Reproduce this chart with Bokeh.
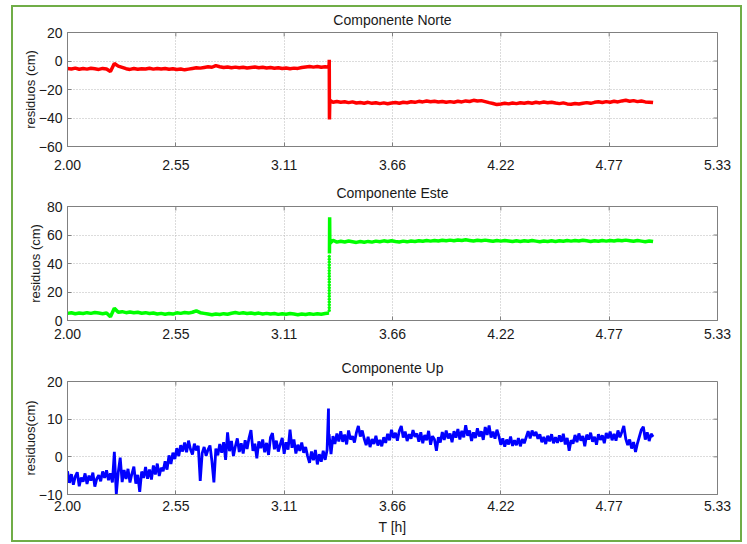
from bokeh.plotting import figure
from bokeh.layouts import column
from bokeh.models import Range1d, FixedTicker
from bokeh.embed import file_html
from bokeh.resources import INLINE

nan = float("nan")

# time [h] for Norte / Este
tiempo = [
    2.00, 2.02, 2.04, 2.06, 2.08, 2.10, 2.12, 2.14, 2.16, 2.18,
    2.20, 2.22, 2.24, 2.26, 2.28, 2.30, 2.32, 2.34, 2.36, 2.38,
    2.40, 2.42, 2.44, 2.46, 2.48, 2.50, 2.52, 2.54, 2.56, 2.58,
    2.60, 2.62, 2.64, 2.66, 2.68, 2.70, 2.72, 2.74, 2.76, 2.78,
    2.80, 2.82, 2.84, 2.86, 2.88, 2.90, 2.92, 2.94, 2.96, 2.98,
    3.00, 3.02, 3.04, 3.06, 3.08, 3.10, 3.12, 3.14, 3.16, 3.18,
    3.20, 3.22, 3.24, 3.26, 3.28, 3.30, 3.32, 3.34, 3.341, 3.342, 3.343, 3.344, 3.36, 3.38,
    3.40, 3.42, 3.44, 3.46, 3.48, 3.50, 3.52, 3.54, 3.56, 3.58,
    3.60, 3.62, 3.64, 3.66, 3.68, 3.70, 3.72, 3.74, 3.76, 3.78,
    3.80, 3.82, 3.84, 3.86, 3.88, 3.90, 3.92, 3.94, 3.96, 3.98,
    4.00, 4.02, 4.04, 4.06, 4.08, 4.10, 4.12, 4.14, 4.16, 4.18,
    4.20, 4.22, 4.24, 4.26, 4.28, 4.30, 4.32, 4.34, 4.36, 4.38,
    4.40, 4.42, 4.44, 4.46, 4.48, 4.50, 4.52, 4.54, 4.56, 4.58,
    4.60, 4.62, 4.64, 4.66, 4.68, 4.70, 4.72, 4.74, 4.76, 4.78,
    4.80, 4.82, 4.84, 4.86, 4.88, 4.90, 4.92, 4.94, 4.96, 4.98,
    5.00,
]

norte = [
    -5.2, -5.6, -5.0, -5.8, -5.3, -5.7, -5.1, -5.5, -5.9, -5.2,
    -5.6, -7.4, -1.8, -3.6, -4.5, -5.4, -5.9, -5.3, -5.8, -5.4,
    -5.6, -5.1, -5.7, -5.2, -5.6, -5.3, -5.8, -5.4, -6.0, -5.6,
    -6.2, -5.7, -5.2, -4.8, -5.0, -4.5, -4.1, -4.4, -3.2, -4.0,
    -4.6, -4.2, -4.7, -4.3, -4.8, -4.4, -4.9, -4.5, -4.2, -4.7,
    -4.4, -4.9, -4.6, -5.1, -4.7, -5.3, -4.9, -5.4, -5.0, -5.2,
    -4.6, -4.2, -3.8, -4.3, -3.9, -4.4, -4.0, -4.3, 0.8, -41.0, -33.0, -27.5, -29.0, -28.4,
    -28.9, -28.6, -29.2, -28.7, -29.5, -29.1, -29.6, -29.0, -29.7, -29.3,
    -29.9, -29.4, -30.0, -29.5, -29.1, -29.6, -28.9, -29.3, -28.6, -29.0,
    -28.3, -28.7, -28.1, -28.6, -28.2, -28.8, -28.4, -29.0, -28.5, -28.9,
    -28.3, -28.7, -28.0, -28.4, -27.6, -28.1, -27.8, -28.5, -29.2, -29.8,
    -30.6, -30.2, -29.7, -30.1, -29.5, -29.9, -29.3, -29.7, -29.1, -29.6,
    -29.0, -29.4, -28.8, -29.3, -28.9, -29.5, -29.9, -29.4, -30.1, -30.4,
    -29.8, -30.2, -29.6, -29.2, -29.7, -29.0, -28.6, -29.1, -28.5, -28.9,
    -28.3, -28.7, -28.0, -27.6, -28.2, -27.8, -28.5, -28.1, -28.7, -28.9,
    -29.2,
]

este = [
    5.0, 5.4, 4.7, 5.2, 4.9, 5.5, 5.0, 5.6, 5.2, 4.8,
    5.3, 2.6, 8.6, 5.8, 6.2, 5.5, 6.0, 5.4, 5.8, 5.1,
    5.5, 4.9, 5.3, 4.6, 5.0, 4.4, 4.9, 4.5, 5.4, 5.0,
    5.6, 5.2, 5.8, 6.8, 5.5, 5.0, 4.5, 4.0, 4.6, 4.2,
    4.8, 4.4, 5.1, 5.6, 5.0, 5.4, 4.9, 5.3, 4.8, 5.2,
    4.6, 5.0, 4.5, 4.9, 4.3, 4.8, 4.4, 4.9, 4.5, 4.1,
    4.6, 4.2, 4.7, 4.3, 4.8, 4.4, 4.9, 5.2, nan, 47.0, 72.5, 54.0, 56.3, 55.0,
    55.6, 55.1, 55.8, 55.3, 54.8, 55.4, 54.9, 55.5, 55.0, 55.7,
    55.3, 55.9, 55.4, 56.0, 55.5, 55.1, 55.7, 55.2, 55.8, 55.4,
    56.0, 55.6, 56.1, 55.7, 56.2, 55.8, 56.3, 55.9, 56.4, 56.0,
    56.5, 56.1, 56.6, 56.2, 55.8, 56.3, 55.9, 56.4, 56.0, 55.6,
    56.1, 55.7, 56.2, 55.8, 55.4, 55.9, 55.5, 56.0, 55.6, 56.1,
    55.7, 55.3, 55.8, 55.4, 55.9, 55.5, 56.0, 55.6, 56.1, 55.7,
    56.2, 55.8, 56.3, 55.9, 55.5, 56.0, 55.6, 56.1, 55.7, 56.2,
    55.8, 56.3, 55.9, 56.4, 56.0, 55.6, 56.1, 55.7, 55.3, 55.8,
    55.4,
]

# sparse points of the Este jump (drawn as dots)
este_salto_t = 3.341
este_salto_y = [7, 9, 11, 13, 15, 17, 19, 21, 23, 25, 27, 29, 31, 33, 35, 37, 39, 41, 43, 45]

# time [h] for Up (denser sampling)
tiempo_up = [
    2.00, 2.01, 2.02, 2.03, 2.04, 2.05, 2.06, 2.07, 2.08, 2.09,
    2.10, 2.11, 2.12, 2.13, 2.14, 2.15, 2.16, 2.17, 2.18, 2.19,
    2.20, 2.21, 2.22, 2.23, 2.24, 2.25, 2.26, 2.27, 2.28, 2.29,
    2.30, 2.31, 2.32, 2.33, 2.34, 2.35, 2.36, 2.37, 2.38, 2.39,
    2.40, 2.41, 2.42, 2.43, 2.44, 2.45, 2.46, 2.47, 2.48, 2.49,
    2.50, 2.51, 2.52, 2.53, 2.54, 2.55, 2.56, 2.57, 2.58, 2.59,
    2.60, 2.61, 2.62, 2.63, 2.64, 2.65, 2.66, 2.67, 2.68, 2.69,
    2.70, 2.71, 2.72, 2.73, 2.74, 2.75, 2.76, 2.77, 2.78, 2.79,
    2.80, 2.81, 2.82, 2.83, 2.84, 2.85, 2.86, 2.87, 2.88, 2.89,
    2.90, 2.91, 2.92, 2.93, 2.94, 2.95, 2.96, 2.97, 2.98, 2.99,
    3.00, 3.01, 3.02, 3.03, 3.04, 3.05, 3.06, 3.07, 3.08, 3.09,
    3.10, 3.11, 3.12, 3.13, 3.14, 3.15, 3.16, 3.17, 3.18, 3.19,
    3.20, 3.21, 3.22, 3.23, 3.24, 3.25, 3.26, 3.27, 3.28, 3.29,
    3.30, 3.31, 3.32, 3.33, 3.337, 3.338, 3.34, 3.35, 3.36, 3.37, 3.38, 3.39,
    3.40, 3.41, 3.42, 3.43, 3.44, 3.45, 3.46, 3.47, 3.48, 3.49,
    3.50, 3.51, 3.52, 3.53, 3.54, 3.55, 3.56, 3.57, 3.58, 3.59,
    3.60, 3.61, 3.62, 3.63, 3.64, 3.65, 3.66, 3.67, 3.68, 3.69,
    3.70, 3.71, 3.72, 3.73, 3.74, 3.75, 3.76, 3.77, 3.78, 3.79,
    3.80, 3.81, 3.82, 3.83, 3.84, 3.85, 3.86, 3.87, 3.88, 3.89,
    3.90, 3.91, 3.92, 3.93, 3.94, 3.95, 3.96, 3.97, 3.98, 3.99,
    4.00, 4.01, 4.02, 4.03, 4.04, 4.05, 4.06, 4.07, 4.08, 4.09,
    4.10, 4.11, 4.12, 4.13, 4.14, 4.15, 4.16, 4.17, 4.18, 4.19,
    4.20, 4.21, 4.22, 4.23, 4.24, 4.25, 4.26, 4.27, 4.28, 4.29,
    4.30, 4.31, 4.32, 4.33, 4.34, 4.35, 4.36, 4.37, 4.38, 4.39,
    4.40, 4.41, 4.42, 4.43, 4.44, 4.45, 4.46, 4.47, 4.48, 4.49,
    4.50, 4.51, 4.52, 4.53, 4.54, 4.55, 4.56, 4.57, 4.58, 4.59,
    4.60, 4.61, 4.62, 4.63, 4.64, 4.65, 4.66, 4.67, 4.68, 4.69,
    4.70, 4.71, 4.72, 4.73, 4.74, 4.75, 4.76, 4.77, 4.78, 4.79,
    4.80, 4.81, 4.82, 4.83, 4.84, 4.85, 4.86, 4.87, 4.88, 4.89,
    4.90, 4.91, 4.92, 4.93, 4.94, 4.95, 4.96, 4.97, 4.98, 4.99,
    5.00,
]

up = [
    -3.8, -6.9, -4.6, -7.4, -5.2, -4.1, -7.8, -5.5, -6.6, -4.4,
    -7.2, -5.0, -6.3, -4.2, -7.9, -5.8, -4.9, -6.5, -3.9, -5.6,
    -3.6, -6.2, -4.4, -6.8, 1.3, -9.9, -4.1, -0.2, -6.7, -3.5,
    -5.9, -3.2, -6.8, -4.5, -2.6, -7.1, -4.8, -9.3, -3.9, -5.6,
    -2.7, -5.8, -3.4, -6.0, -2.3, -4.7, -1.8, -5.1, -2.9, -3.8,
    -1.2, -3.4, 0.4, -1.9, 1.1, -0.6, 2.3, 0.2, 3.1, 1.4,
    3.8, 1.2, 4.3, 2.0, 0.6, 3.5, 1.7, 2.9, -6.4, 1.0,
    2.6, 0.3, 1.9, 3.0, -1.2, -6.8, 2.2, 0.4, 3.4, 1.1,
    3.9, -0.8, 6.5, 1.5, 4.2, 0.2, 2.8, 4.9, 1.3, 3.6,
    0.9, 4.4, 2.1, 5.0, 7.1, 1.6, 3.5, -0.4, 4.1, 2.3,
    4.6, 1.2, 3.7, 0.5, 5.2, 6.3, 2.0, 4.3, 1.4, 3.3,
    5.0, 0.8, 3.9, 1.9, 7.2, 2.4, 4.6, 0.9, 3.2, 1.6,
    3.8, 1.1, 2.6, 0.2, -1.6, 1.4, -0.9, 1.8, -2.0, 0.7,
    -1.3, 1.6, -0.8, 1.9, 12.8, 4.0, 6.0, 0.7, 5.5, 3.4, 6.2, 4.1,
    6.8, 4.0, 5.9, 3.3, 7.0, 4.6, 5.5, 3.8, 6.4, 8.2,
    5.4, 7.0, 4.8, 3.1, 5.3, 2.6, 4.7, 3.4, 5.6, 3.0,
    4.5, 2.8, 5.2, 3.7, 6.1, 4.4, 7.2, 5.0, 6.4, 4.3,
    6.9, 8.2, 5.1, 6.7, 4.2, 6.0, 4.8, 7.1, 5.3, 6.2,
    4.0, 6.5, 3.6, 5.8, 4.4, 6.9, 3.2, 5.5, 4.6, 1.6,
    5.2, 3.8, 6.6, 4.5, 7.0, 4.9, 6.2, 3.9, 6.8, 5.1,
    7.4, 4.6, 6.9, 5.2, 8.4, 5.6, 7.0, 4.2, 6.5, 5.0,
    7.6, 5.4, 6.8, 4.5, 7.9, 5.8, 8.3, 5.1, 6.7, 4.8,
    7.2, 5.5, 3.2, 4.9, 2.7, 4.6, 3.3, 5.4, 2.9, 4.4,
    3.1, 5.0, 2.8, 4.7, 3.6, 5.2, 6.8, 4.9, 7.0, 5.6,
    6.6, 4.8, 6.0, 3.9, 5.3, 3.4, 5.6, 4.1, 6.0, 3.6,
    5.2, 3.7, 5.7, 4.0, 6.1, 3.3, 5.0, 1.6, 4.4, 3.5,
    5.8, 3.9, 6.2, 4.3, 5.5, 2.8, 5.9, 4.6, 6.4, 4.0,
    5.3, 3.2, 6.0, 4.5, 5.7, 3.6, 6.3, 4.9, 6.7, 4.4,
    6.1, 4.3, 7.0, 5.2, 6.6, 8.2, 4.8, 3.1, 4.6, 2.2,
    3.9, 1.3, 3.6, 5.4, 7.2, 8.0, 4.6, 6.5, 4.2, 6.1,
    5.3,
]

x_ticks = [2.0, 2.555, 3.11, 3.665, 4.22, 4.775, 5.33]
x_tick_labels = ["2.00", "2.55", "3.11", "3.66", "4.22", "4.77", "5.33"]
x_limits = (2.0, 5.33)

titulos = ["Componente Norte", "Componente Este", "Componente Up"]
y_labels = ["residuos (cm)", "residuos (cm)", "residuos(cm)"]
y_limits = [(-60, 20), (0, 80), (-10, 20)]
y_ticks = [[-60, -40, -20, 0, 20], [0, 20, 40, 60, 80], [-10, 0, 10, 20]]

assert len(tiempo) == len(norte) == len(este)
assert len(tiempo_up) == len(up)

FONT = "Liberation Sans"
AXC = "#808080"
TXT = "#1a1a1a"
FRAME_W = 650
TICK_PX = 4


def make_fig(idx, height, top, bottom, xstand, ylab_stand, t_align, t_standoff, xlabel=None):
    p = figure(width=727, height=height, output_backend="svg", toolbar_location=None,
               x_range=Range1d(*x_limits), y_range=Range1d(*y_limits[idx]),
               min_border_left=54, min_border_right=23,
               min_border_top=top, min_border_bottom=bottom)
    p.title.text = titulos[idx]
    p.title.align = "center"
    p.title.text_font = FONT
    p.title.text_font_size = "14px"
    p.title.text_font_style = "normal"
    p.title.text_color = TXT
    p.title.vertical_align = t_align
    p.title.standoff = t_standoff
    p.xaxis.ticker = FixedTicker(ticks=x_ticks)
    p.xaxis.major_label_overrides = {t: l for t, l in zip(x_ticks, x_tick_labels)}
    p.yaxis.ticker = FixedTicker(ticks=y_ticks[idx])
    for ax in [p.xaxis[0], p.yaxis[0]]:
        ax.axis_line_color = AXC
        ax.major_tick_line_color = AXC
        ax.major_tick_in = TICK_PX
        ax.major_tick_out = 0
        ax.minor_tick_line_color = None
        ax.major_label_text_font = FONT
        ax.major_label_text_font_size = "14px"
        ax.major_label_text_color = TXT
        ax.axis_label_text_font = FONT
        ax.axis_label_text_font_style = "normal"
        ax.axis_label_text_color = TXT
    p.xaxis.major_label_standoff = xstand
    p.yaxis.major_label_standoff = 5
    p.yaxis.axis_label = y_labels[idx]
    p.yaxis.axis_label_text_font_size = "13px"
    p.yaxis.axis_label_standoff = ylab_stand
    if xlabel:
        p.xaxis.axis_label = xlabel
        p.xaxis.axis_label_text_font_size = "14px"
        p.xaxis.axis_label_standoff = 5
    # inward tick marks on the top and right edges of the box
    frame_h = height - top - bottom
    ymin, ymax = y_limits[idx]
    dy = (ymax - ymin) * TICK_PX / frame_h
    dx = (x_limits[1] - x_limits[0]) * TICK_PX / FRAME_W
    p.segment(x0=x_ticks, y0=[ymax] * len(x_ticks), x1=x_ticks, y1=[ymax - dy] * len(x_ticks),
              line_color=AXC, line_width=1)
    yt = y_ticks[idx]
    p.segment(x0=[x_limits[1]] * len(yt), y0=yt, x1=[x_limits[1] - dx] * len(yt), y1=yt,
              line_color=AXC, line_width=1)
    p.outline_line_color = AXC
    for g in [p.xgrid[0], p.ygrid[0]]:
        g.grid_line_color = "#b8b8b8"
        g.grid_line_dash = "1 2"
        g.grid_line_width = 1
    p.background_fill_color = "white"
    p.border_fill_color = "white"
    return p


p1 = make_fig(0, 169, 25, 30, 13, -2, "top", 6)
p1.line(tiempo, norte, color="#ff0000", line_width=3.5)

p2 = make_fig(1, 174, 30, 30, 8, 1, "bottom", 12)
p2.line(tiempo, este, color="#00ff00", line_width=3.5)
p2.scatter([este_salto_t for _ in este_salto_y], este_salto_y, size=2.5, color="#00ff00")

p3 = make_fig(2, 190, 31, 46, 6, -2, "bottom", 12, xlabel="T [h]")
p3.line(tiempo_up, up, color="#0000ff", line_width=2.8)

layout = column(p1, p2, p3, margin=(5, 0, 0, 11), styles={"border": "2px solid #70ad47"})

with open("out.html", "w") as f:
    f.write(file_html(layout, INLINE))
